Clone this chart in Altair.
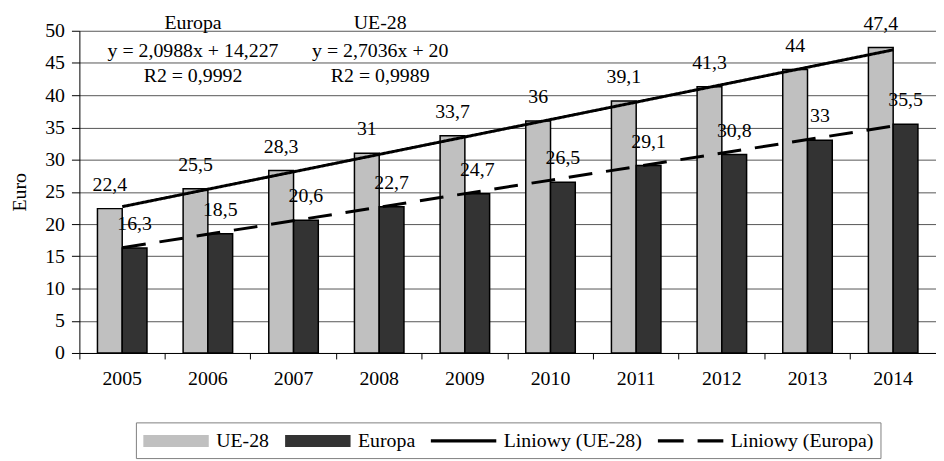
import altair as alt
import pandas as pd

years = [2005, 2006, 2007, 2008, 2009, 2010, 2011, 2012, 2013, 2014]
ue28 = [22.4, 25.5, 28.3, 31, 33.7, 36, 39.1, 41.3, 44, 47.4]
europa = [16.3, 18.5, 20.6, 22.7, 24.7, 26.5, 29.1, 30.8, 33, 35.5]
series = ["UE-28", "Europa"]
bar_colors = ["#c0c0c0", "#333333"]
legend_entries = ["UE-28", "Europa", "Liniowy (UE-28)", "Liniowy (Europa)"]
legend_colors = ["#c0c0c0", "#333333", "black", "black"]
y_ticks = [0, 5, 10, 15, 20, 25, 30, 35, 40, 45, 50]

ann_europa = ["Europa", "y = 2,0988x + 14,227", "R2 = 0,9992"]
ann_ue = ["UE-28", "y = 2,7036x + 20", "R2 = 0,9989"]
ann_levels = [51.2, 46.9, 42.9]

FONT = "Liberation Serif"
FS = 20

rows = []
for s, vals in zip(series, [ue28, europa]):
    for yr, v in zip(years, vals):
        rows.append({"year": yr, "series": s, "value": v})
df = pd.DataFrame(rows)

ann_eu_df = pd.DataFrame({"text": ann_europa, "year": [2006] * 3, "value": ann_levels})
ann_ue_df = pd.DataFrame({"text": ann_ue, "year": [2008] * 3, "value": ann_levels})
leg_df = pd.DataFrame({"entry": legend_entries})

x_enc = alt.X("year:O", title=None,
              scale=alt.Scale(domain=years, paddingInner=0, paddingOuter=0))
y_enc = alt.Y("value:Q", title="Euro", scale=alt.Scale(domain=[0, 50], nice=False))
xoff = alt.XOffset("series:N", scale=alt.Scale(domain=series, paddingInner=0, paddingOuter=0.73))

base = alt.Chart(df)

bars = base.mark_bar(stroke="black", strokeWidth=1.5).encode(
    x=x_enc, xOffset=xoff, y=y_enc,
    fill=alt.Fill("series:N", scale=alt.Scale(domain=series, range=bar_colors), legend=None),
)

lines = base.transform_regression("year", "value", groupby=["series"]).mark_line(
    color="black", strokeWidth=3
).encode(
    x=x_enc, y=y_enc,
    strokeDash=alt.StrokeDash("series:N", scale=alt.Scale(domain=series, range=[[1, 0], [24, 14]]), legend=None),
)

labels = base.transform_calculate(
    label="replace(toString(datum.value), '.', ',')"
).mark_text(font=FONT, fontSize=FS, baseline="alphabetic", dy=-18, color="black").encode(
    x=x_enc, xOffset=xoff, y=y_enc, text="label:N"
)

ann_eu = alt.Chart(ann_eu_df).mark_text(font=FONT, fontSize=FS, baseline="middle", dx=-15, color="black").encode(
    x=x_enc, y=y_enc, text="text:N"
)
ann_ue = alt.Chart(ann_ue_df).mark_text(font=FONT, fontSize=FS, baseline="middle", dx=1, color="black").encode(
    x=x_enc, y=y_enc, text="text:N"
)

rect_p = "M-1,-0.55H5V0.55H-1Z"
solid_p = "M-1,-0.15H5V0.15H-1Z"
dash_p = "M-1,-0.15H1.36V0.15H-1Z M2.64,-0.15H5V0.15H2.64Z"

leg = alt.Legend(title=None, orient="none", legendX=57, legendY=395, direction="horizontal",
                 strokeColor="#808080", padding=7, labelFont=FONT, labelFontSize=FS,
                 labelColor="black", labelOffset=51, symbolSize=484, columnPadding=13,
                 symbolStrokeColor="black", symbolStrokeWidth=1, symbolOpacity=1, labelLimit=400)

legend_layer = alt.Chart(leg_df).mark_point(filled=True, opacity=0, stroke="black", strokeWidth=1).encode(
    color=alt.Color("entry:N", scale=alt.Scale(domain=legend_entries, range=legend_colors), legend=leg),
    shape=alt.Shape("entry:N", scale=alt.Scale(domain=legend_entries, range=[rect_p, rect_p, solid_p, dash_p]), legend=leg),
)

chart = alt.layer(bars, lines, labels, ann_eu, ann_ue, legend_layer).properties(
    width=864, height=325, padding={"left": 2, "top": 3, "right": 0, "bottom": 0}
).configure_view(stroke=None).configure_axis(
    labelFont=FONT, labelFontSize=FS, labelColor="black",
    titleFont=FONT, titleFontSize=20, titleFontWeight="normal", titleColor="black",
    domainColor="black", tickColor="black",
).configure_axisX(
    grid=False, labelAngle=0, bandPosition=0, tickSize=6, labelPadding=10
).configure_axisY(
    grid=True, gridColor="#555555", values=y_ticks, tickSize=8, labelPadding=7, titlePadding=15
)

chart.save("out.html", embed_options={"renderer": "svg", "actions": False})
